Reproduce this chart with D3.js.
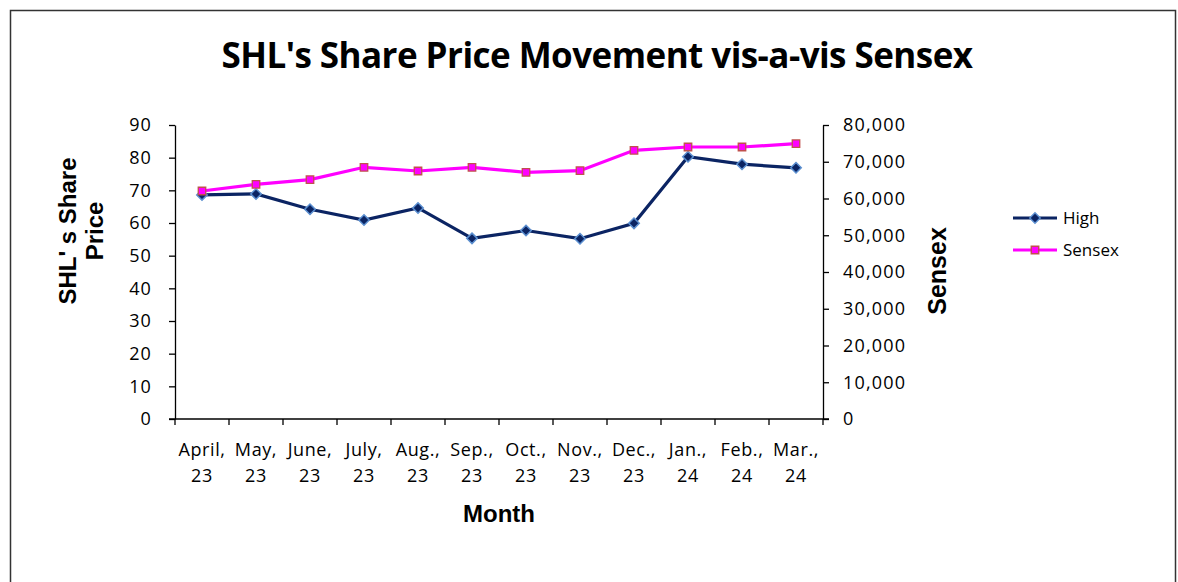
<!DOCTYPE html>
<html>
<head>
<meta charset="utf-8">
<script src="https://cdn.jsdelivr.net/npm/d3@7"></script>
<style>
  body { margin: 0; background: #fff; }
  .tick text { font-family: "Open Sans", Calibri, sans-serif; }
</style>
</head>
<body>
<div id="chart"></div>
<script>
/* SHL share price vs Sensex - dual axis line chart */

const months = ["April, 23", "May, 23", "June, 23", "July, 23", "Aug., 23", "Sep., 23",
                "Oct., 23", "Nov., 23", "Dec., 23", "Jan., 24", "Feb., 24", "Mar., 24"];
const high = [68.6, 68.9, 64.2, 60.9, 64.6, 55.3, 57.7, 55.2, 59.9, 80.3, 78.0, 76.9];
const sensex = [62040, 63860, 65120, 68490, 67480, 68490, 67120, 67570, 73110, 74010, 74010, 74910];
const leftTicks = [0, 10, 20, 30, 40, 50, 60, 70, 80, 90];
const rightTicks = [0, 10000, 20000, 30000, 40000, 50000, 60000, 70000, 80000];

const width = 1178, height = 582,
    margin = ({ top: 125, right: 355, bottom: 163, left: 175 });

const svg = d3.select("#chart")
    .append("svg")
    .attr("width", width)
    .attr("height", height);

// chart border
svg.append("rect")
    .attr("x", 10.5).attr("y", 10.5)
    .attr("width", 1165).attr("height", 600)
    .attr("fill", "none")
    .attr("stroke", "#333")
    .attr("stroke-width", 1.5);

let x = d3.scaleBand()
    .domain(months)
    .range([margin.left, width - margin.right]);

let yL = d3.scaleLinear()
    .domain([0, 90])
    .range([height - margin.bottom, margin.top]);

let yR = d3.scaleLinear()
    .domain([0, 80000])
    .range([height - margin.bottom, margin.top]);

const cx = d => x(d) + x.bandwidth() / 2;

// left axis
svg.append("g")
    .attr("transform", `translate(${margin.left},0)`)
    .call(d3.axisLeft(yL).tickValues(leftTicks).tickSize(6).tickPadding(17).tickSizeOuter(0))
    .call(g => g.selectAll("text").attr("font-size", 18).attr("letter-spacing", 1.1).attr("fill", "#000"))
    .call(g => g.selectAll("line, path").attr("stroke", "#000").attr("stroke-width", 1.3));

// right axis
svg.append("g")
    .attr("transform", `translate(${width - margin.right},0)`)
    .call(d3.axisRight(yR).tickValues(rightTicks).tickFormat(d3.format(",")).tickSize(6).tickPadding(14).tickSizeOuter(0))
    .call(g => g.selectAll("text").attr("font-size", 18).attr("letter-spacing", 1.2).attr("fill", "#000"))
    .call(g => g.selectAll("line, path").attr("stroke", "#000").attr("stroke-width", 1.3));

// bottom axis: ticks on category boundaries
const xAxis = svg.append("g");
xAxis.append("line")
    .attr("x1", margin.left - 6).attr("x2", width - margin.right + 6)
    .attr("y1", yL(0)).attr("y2", yL(0))
    .attr("stroke", "#000").attr("stroke-width", 1.3);
xAxis.selectAll(".xtick")
    .data(months.concat(["end"]))
    .join("line")
    .attr("x1", (d, i) => margin.left + i * x.bandwidth())
    .attr("x2", (d, i) => margin.left + i * x.bandwidth())
    .attr("y1", yL(0)).attr("y2", yL(0) + 6)
    .attr("stroke", "#000").attr("stroke-width", 1.3);
const xl = xAxis.selectAll(".xlab")
    .data(months)
    .join("text")
    .attr("text-anchor", "middle")
    .attr("font-family", "'Open Sans', Calibri, sans-serif")
    .attr("font-size", 18)
    .attr("letter-spacing", 0.6)
    .attr("fill", "#000");
xl.append("tspan")
    .attr("x", cx).attr("y", yL(0) + 37)
    .text(d => d.split(" ")[0]);
xl.append("tspan")
    .attr("x", cx).attr("y", yL(0) + 63)
    .text(d => d.split(" ")[1]);

// title
svg.append("text")
    .attr("x", 597).attr("y", 68)
    .attr("text-anchor", "middle")
    .attr("font-family", "'Open Sans', Calibri, sans-serif")
    .attr("font-weight", "bold")
    .attr("font-size", 35)
    .attr("letter-spacing", "-0.55")
    .text("SHL's Share Price Movement vis-a-vis Sensex");

// axis titles
svg.append("text")
    .attr("x", 499).attr("y", 522)
    .attr("text-anchor", "middle")
    .attr("font-family", "'Liberation Sans', Arial, sans-serif")
    .attr("font-weight", "bold")
    .attr("font-size", 24)
    .text("Month");

const yt = svg.append("text")
    .attr("transform", "translate(76,231) rotate(-90)")
    .attr("text-anchor", "middle")
    .attr("font-family", "'Liberation Sans', Arial, sans-serif")
    .attr("font-weight", "bold")
    .attr("font-size", 24);
yt.append("tspan").attr("x", 0).attr("y", 0).text("SHL' s Share");
yt.append("tspan").attr("x", 0).attr("y", 27).text("Price");

svg.append("text")
    .attr("transform", "translate(946,271) rotate(-90)")
    .attr("text-anchor", "middle")
    .attr("font-family", "'Liberation Sans', Arial, sans-serif")
    .attr("font-weight", "bold")
    .attr("font-size", 25)
    .text("Sensex");

// lines
const highColor = "#0b2463", sensexColor = "#ff00ff";

svg.append("path")
    .datum(high)
    .attr("d", d3.line().x((d, i) => cx(months[i])).y(d => yL(d)))
    .attr("fill", "none")
    .attr("stroke", highColor)
    .attr("stroke-width", 3.2);

svg.append("path")
    .datum(sensex)
    .attr("d", d3.line().x((d, i) => cx(months[i])).y(d => yR(d)))
    .attr("fill", "none")
    .attr("stroke", sensexColor)
    .attr("stroke-width", 3.2);

const diamond = d3.symbol().type(d3.symbolDiamond2).size(70);
const square = d3.symbol().type(d3.symbolSquare).size(56);

svg.selectAll(".hi")
    .data(high)
    .join("path")
    .attr("d", diamond)
    .attr("transform", (d, i) => `translate(${cx(months[i])},${yL(d)})`)
    .attr("fill", highColor)
    .attr("stroke", "#5b8fd0")
    .attr("stroke-width", 1.5);

svg.selectAll(".sx")
    .data(sensex)
    .join("path")
    .attr("d", square)
    .attr("transform", (d, i) => `translate(${cx(months[i])},${yR(d)})`)
    .attr("fill", sensexColor)
    .attr("stroke", "#c0504d")
    .attr("stroke-width", 1.3);

// legend
const legend = svg.append("g");
const legItems = [
    { name: "High", color: highColor, sym: diamond, fill: highColor, stroke: "#5b8fd0", y: 218 },
    { name: "Sensex", color: sensexColor, sym: square, fill: sensexColor, stroke: "#c0504d", y: 250 }
];
legItems.forEach(it => {
    legend.append("line")
        .attr("x1", 1013).attr("x2", 1057)
        .attr("y1", it.y).attr("y2", it.y)
        .attr("stroke", it.color).attr("stroke-width", 3.2);
    legend.append("path")
        .attr("d", it.sym)
        .attr("transform", `translate(1035,${it.y})`)
        .attr("fill", it.fill).attr("stroke", it.stroke).attr("stroke-width", 1.4);
    legend.append("text")
        .attr("x", 1063).attr("y", it.y + 6)
        .attr("font-family", "'Open Sans', Calibri, sans-serif")
        .attr("font-size", 17)
        .text(it.name);
});
</script>
</body>
</html>
